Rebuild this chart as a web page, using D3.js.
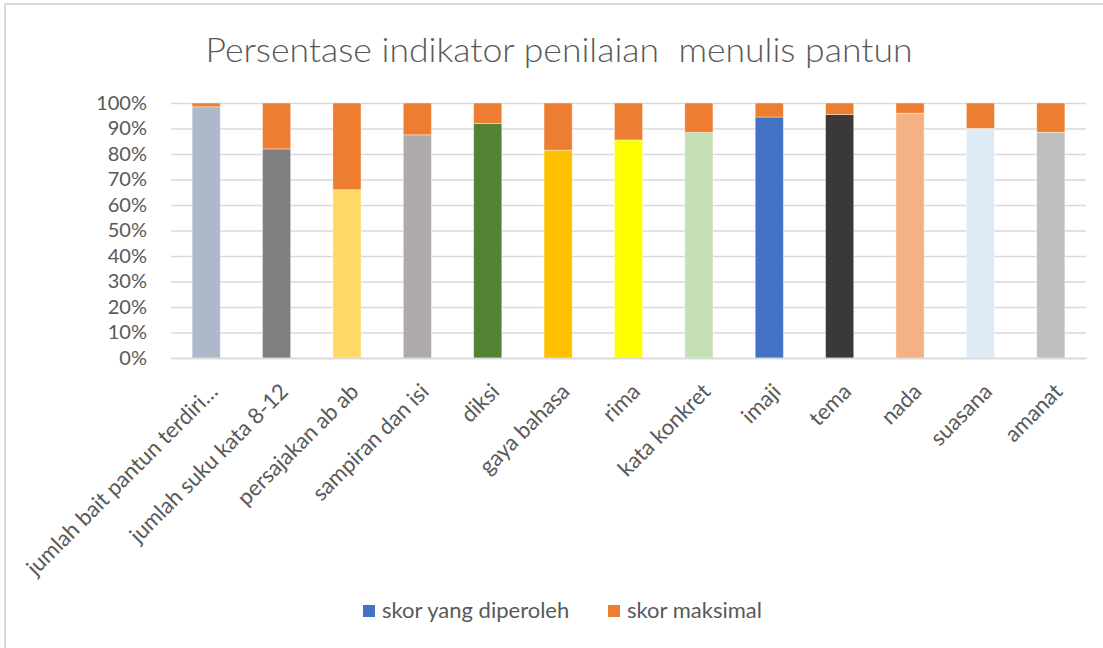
<!DOCTYPE html>
<html>
<head>
<meta charset="utf-8">
<script src="https://cdn.jsdelivr.net/npm/d3@7"></script>
<style>
  body { margin: 0; background: #fff; }
  svg { display: block; font-family: Lato, "Open Sans", sans-serif; }
  .axis text { fill: #595959; }
  .grid line { stroke: #d9d9d9; stroke-width: 1.5; }
</style>
</head>
<body>
<svg id="chart"></svg>
<script>
const categories = [
  "jumlah bait pantun terdiri…", "jumlah suku kata 8-12", "persajakan ab ab",
  "sampiran dan isi", "diksi", "gaya bahasa", "rima", "kata konkret",
  "imaji", "tema", "nada", "suasana", "amanat"
];
// percent of the stacked column taken by each series
const skorDiperoleh = [98.5, 82, 66, 87.5, 92, 81.5, 85.5, 88.5, 94.5, 95.5, 96, 90, 88.5];
const skorMaksimal  = [1.5, 18, 34, 12.5, 8, 18.5, 14.5, 11.5, 5.5, 4.5, 4, 10, 11.5];
const barColors = [
  "#adb9ca", "#7f7f7f", "#ffd966", "#aeaaaa", "#548235", "#ffc000", "#ffff00",
  "#c5e0b4", "#4472c4", "#3b3838", "#f4b183", "#deebf7", "#bfbfbf"
];
const seriesNames = ["skor yang diperoleh", "skor maksimal"];
const seriesColors = ["#4472c4", "#ed7d31"];

const width = 1103, height = 648;
const margin = {top: 103, right: 17, bottom: 290, left: 171};

const svg = d3.select("#chart").attr("width", width).attr("height", height);

// chart frame (only top and left edges visible in the picture)
svg.append("path")
  .attr("d", `M5,${height} V4 H${width}`)
  .attr("fill", "none")
  .attr("stroke", "#d9d9d9")
  .attr("stroke-width", 2);

const rows = categories.map((c, i) => ({cat: c, a: skorDiperoleh[i], b: skorMaksimal[i], i}));
const stacked = d3.stack().keys(["a", "b"])(rows);

const x = d3.scaleBand()
  .domain(categories)
  .range([margin.left, width - margin.right])
  .paddingInner(0.6)
  .paddingOuter(0.3);

const y = d3.scaleLinear()
  .domain([0, 100])
  .range([height - margin.bottom, margin.top]);

// grid
const grid = svg.append("g")
  .classed("grid", true)
  .attr("transform", `translate(${margin.left},0)`)
  .call(d3.axisLeft(y).ticks(10).tickSize(-(width - margin.right - margin.left)).tickFormat(""));
grid.select(".domain").remove();

// y axis labels
const yaxis = svg.append("g")
  .classed("axis", true)
  .attr("transform", `translate(${margin.left - 21},0)`)
  .call(d3.axisLeft(y).ticks(10).tickSize(0).tickFormat(d => d + "%"));
yaxis.select(".domain").remove();
yaxis.selectAll("text").attr("font-size", 20).attr("font-family", "Lato");

// bars
svg.append("g").selectAll("g")
  .data(stacked)
  .join("g")
  .selectAll("rect")
  .data(d => d.map(p => ({p, key: d.key})))
  .join("rect")
  .attr("x", d => x(d.p.data.cat))
  .attr("width", x.bandwidth())
  .attr("y", d => y(d.p[1]))
  .attr("height", d => y(d.p[0]) - y(d.p[1]))
  .attr("fill", d => d.key === "a" ? barColors[d.p.data.i] : seriesColors[1])
  .attr("stroke", "#fff")
  .attr("stroke-opacity", 0.5)
  .attr("stroke-width", 0.8);

// x labels, rotated
const xaxis = svg.append("g")
  .classed("axis", true)
  .attr("transform", `translate(0,${height - margin.bottom})`)
  .call(d3.axisBottom(x).tickSize(0));
xaxis.select(".domain").attr("stroke", "#d9d9d9").attr("stroke-width", 1.5);
xaxis.selectAll("text")
  .attr("font-size", 22)
  .attr("font-family", "Lato")
  .attr("text-anchor", "end")
  .attr("dy", null)
  .attr("y", 0)
  .attr("transform", "translate(13,35) rotate(-45)");

// title
svg.append("text")
  .attr("x", 559)
  .attr("y", 62)
  .attr("text-anchor", "middle")
  .attr("font-size", 34)
  .attr("font-weight", 300)
  .attr("fill", "#595959")
  .attr("textLength", 707)
  .attr("lengthAdjust", "spacingAndGlyphs")
  .style("white-space", "pre")
  .text("Persentase indikator penilaian  menulis pantun");

// legend
const legendX = [363, 608];
const legend = svg.append("g").selectAll("g")
  .data(seriesNames)
  .join("g")
  .attr("transform", (d, i) => `translate(${legendX[i]},605)`);
legend.append("rect")
  .attr("width", 12).attr("height", 12)
  .attr("fill", (d, i) => seriesColors[i]);
legend.append("text")
  .attr("x", 19).attr("y", 13)
  .attr("font-size", 22)
  .attr("fill", "#595959")
  .text(d => d);
</script>
</body>
</html>
